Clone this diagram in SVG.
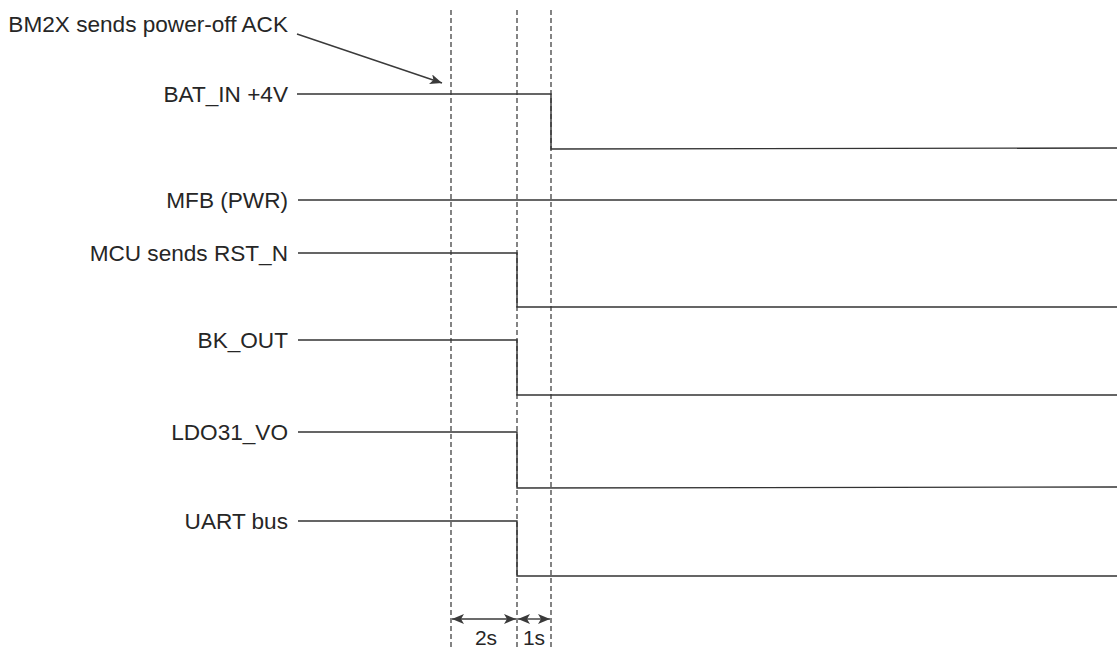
<svg xmlns="http://www.w3.org/2000/svg" width="1117" height="647" viewBox="0 0 1117 647">
<style>
.lbl{font-family:"Liberation Sans",Arial,sans-serif;font-size:22.6px;fill:#262626;text-anchor:end}
.dim{font-family:"Liberation Sans",Arial,sans-serif;font-size:21px;fill:#262626;text-anchor:middle}
.sig{fill:none;stroke:#333;stroke-width:1.4}
.dash{fill:none;stroke:#333;stroke-width:1.2;stroke-dasharray:5 3}
.arr{fill:none;stroke:#3a3a3a;stroke-width:1.4}
</style>
<defs>
<marker id="ah" viewBox="0 0 12 10" refX="12" refY="5" markerWidth="12" markerHeight="10" markerUnits="userSpaceOnUse" orient="auto-start-reverse">
<path d="M0,0 L12,5 L0,10 L3,5 Z" fill="#3a3a3a"/>
</marker>
</defs>
<rect width="1117" height="647" fill="#fff"/>
<g id="guides">
<line class="dash" x1="451" y1="10" x2="451" y2="647"/>
<line class="dash" x1="517" y1="10" x2="517" y2="647"/>
<line class="dash" x1="551" y1="10" x2="551" y2="647"/>
</g>
<g id="ack">
<text class="lbl" x="288" y="32">BM2X sends power-off ACK</text>
</g>
<g id="bat_in">
<text class="lbl" x="288" y="102">BAT_IN +4V</text>
<polyline class="sig" points="297,94 551,94 551,149 1117,148"/>
</g>
<g id="mfb">
<text class="lbl" x="288" y="208">MFB (PWR)</text>
<polyline class="sig" points="298,200 1117,200"/>
</g>
<g id="rst_n">
<text class="lbl" x="288" y="261">MCU sends RST_N</text>
<polyline class="sig" points="298,253 517,253 517,307 1117,307"/>
</g>
<g id="bk_out">
<text class="lbl" x="288" y="348">BK_OUT</text>
<polyline class="sig" points="298,340 517,340 517,395 1117,395"/>
</g>
<g id="ldo31_vo">
<text class="lbl" x="288" y="440">LDO31_VO</text>
<polyline class="sig" points="298,432 517,432 517,488 1117,487"/>
</g>
<g id="uart">
<text class="lbl" x="288" y="529">UART bus</text>
<polyline class="sig" points="298,521 517,521 517,576 1117,576"/>
</g>
<g id="connectors">
<line class="arr" x1="297" y1="34" x2="442" y2="83" marker-end="url(#ah)"/>
<line class="arr" x1="452" y1="619" x2="516" y2="619" marker-start="url(#ah)" marker-end="url(#ah)"/>
<line class="arr" x1="518" y1="619" x2="550" y2="619" marker-start="url(#ah)" marker-end="url(#ah)"/>
</g>
<g id="dims">
<text class="dim" x="486" y="645">2s</text>
<text class="dim" x="534" y="645">1s</text>
</g>
</svg>
